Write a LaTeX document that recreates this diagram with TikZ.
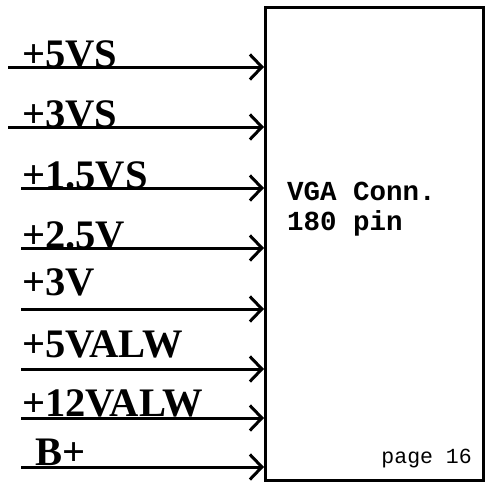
\documentclass[tikz,border=0pt]{standalone}
\usepackage{fontspec}
\setmainfont{Liberation Serif}
\newfontfamily\connfont{Liberation Mono}
\usetikzlibrary{arrows.meta}

\begin{document}
\begin{tikzpicture}[
  x=1pt, y=-1pt,
  >={Straight Barb[length=12pt,width=25pt]},
  rail/.style={->, line width=3pt},
  railname/.style={anchor=base west, inner sep=0pt, font=\fontsize{40.5}{42}\selectfont\bfseries},
  connbox/.style={draw, line width=3pt, minimum width=218pt, minimum height=473pt, inner sep=0pt, anchor=north west},
  conntext/.style={anchor=base west, inner sep=0pt, font=\connfont\bfseries\fontsize{27.5}{30}\selectfont}
]
  \useasboundingbox (0,0) rectangle (495,485);
  \node[connbox] (conn) at (264,6) {};
  \node[conntext] (title) at (287,200) {VGA Conn.};
  \node[conntext] (pins) at (287,230) {180 pin};
  \node[anchor=base east, inner sep=0pt, font=\connfont\fontsize{21.5}{24}\selectfont] (page) at (472,463) {page 16};
  % supply rails into the connector
  \foreach \i/\ly/\sx/\lx/\ty/\txt in {1/67/8/22/67/+5VS, 2/127/8/22/127/+3VS, 3/188/21/22/188/+1.5VS,
      4/248/21/22/248/+2.5V, 5/309/21/22/295/+3V, 6/369/21/22/357/+5VALW,
      7/418/21/22/416/+12VALW, 8/467/21/35/465/B+} {
    \coordinate (s\i) at (\sx,\ly);
    \node[railname] (l\i) at (\lx,\ty) {\txt};
    \draw[rail] (s\i) -- (s\i -| conn.west);
  }
\end{tikzpicture}
\end{document}
